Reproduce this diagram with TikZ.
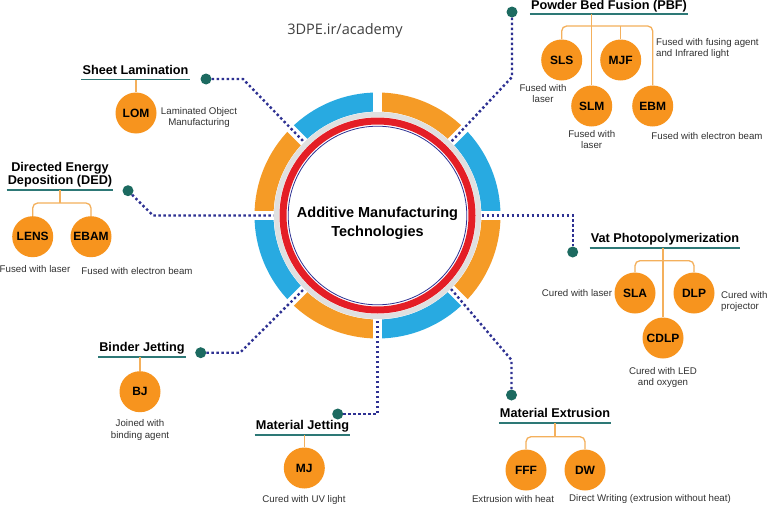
\documentclass[tikz,border=0pt]{standalone}
\usepackage{fontspec}
\setmainfont{Liberation Sans}
\newfontfamily\sitefont{Open Sans}
\usepackage{tikz}
\usetikzlibrary{positioning,calc}
\definecolor{amorange}{RGB}{247,148,30}
\definecolor{ringorange}{RGB}{245,155,38}
\definecolor{ringblue}{RGB}{40,170,225}
\definecolor{ringred}{RGB}{228,30,38}
\definecolor{navydot}{RGB}{46,49,146}
\definecolor{tealdot}{RGB}{28,106,96}
\definecolor{tealline}{RGB}{45,120,118}
\definecolor{branchorange}{RGB}{244,176,92}
\definecolor{txtgray}{RGB}{50,50,50}

\begin{document}
\begin{tikzpicture}[
  x=1pt, y=1pt,
  head/.style={font=\fontsize{12.7}{13.5}\selectfont\bfseries, anchor=south, text depth=2.5pt, inner xsep=1pt, inner ysep=2.5pt, align=center},
  uline/.style={draw=tealline, line width=1.3pt},
  proc/.style={circle, fill=amorange, minimum size=41pt, inner sep=0pt, font=\fontsize{12}{12}\selectfont\bfseries},
  desc/.style={font=\fontsize{9.7}{11.5}\selectfont, text=txtgray, align=center, inner sep=1pt},
  bullet/.style={circle, fill=tealdot, minimum size=11pt, inner sep=0pt},
  dotcon/.style={navydot, line width=2.4pt, dash pattern=on 2.4pt off 2.6pt},
  branch/.style={draw=branchorange, line width=1.3pt, rounded corners=5pt}
]
\fill[white] (0,0) rectangle (768,-506);
\useasboundingbox (0,0) rectangle (768,-506);

\coordinate (ctr) at (377.5,-215.5);
\foreach \a/\col in {0/ringblue,45/ringorange,90/ringblue,135/ringorange,180/ringblue,225/ringorange,270/ringblue,315/ringorange}
  \draw[\col, line width=19pt] ($(ctr)+(\a:113.5)$) arc[start angle=\a, delta angle=45, radius=113.5];
\foreach \a in {0,45,...,315} {
  \draw[white, line width=9pt] ($(ctr)+(\a:103)$) -- ($(ctr)+(\a:126)$);
  \coordinate (g\a) at ($(ctr)+(\a:104)$);
}
\draw[black!12, line width=5pt] (ctr) circle[radius=101];
\draw[ringred, line width=7pt] (ctr) circle[radius=94.5];
\draw[navydot, line width=0.8pt] (ctr) circle[radius=89.3];

\node[font=\fontsize{14.5}{19}\selectfont\bfseries, align=center] (amt) at (377.5,-223.5) {Additive Manufacturing\\Technologies};
\node[font=\sitefont\fontsize{14.5}{16}\selectfont, text=black!75] (site) at (345,-31) {3DPE.ir/academy};

\node[head] (sheet) at (135.5,-79.5) {Sheet Lamination};
\node[head] (ded) at (60,-190) {Directed Energy\\Deposition (DED)};
\node[head, inner ysep=1.5pt] (pbf) at (609,-14) {Powder Bed Fusion (PBF)};
\node[head] (vat) at (665,-248) {Vat Photopolymerization};
\node[head] (binder) at (142,-357) {Binder Jetting};
\node[head] (mjet) at (302.5,-435) {Material Jetting};
\node[head] (mext) at (555,-423) {Material Extrusion};
\foreach \h in {sheet,ded,pbf,vat,binder,mjet,mext}
  \draw[uline] (\h.south west) -- (\h.south east);

\node[bullet] (slb) at (206,-79) {};
\node[bullet] (dedb) at (128,-190.7) {};
\node[bullet] (pbfb) at (512,-12) {};
\node[bullet] (vatb) at (572.7,-252) {};
\node[bullet] (bjb) at (200.7,-352.7) {};
\node[bullet] (mjb) at (337.7,-414) {};
\node[bullet] (mexb) at (511.5,-395) {};

\node[proc] (lom) at (136,-113) {LOM};
\node[proc] (lens) at (32.7,-236.7) {LENS};
\node[proc] (ebam) at (91,-236.7) {EBAM};
\node[proc] (sls) at (561.7,-60) {SLS};
\node[proc] (mjf) at (620.7,-60) {MJF};
\node[proc] (slm) at (591.7,-106) {SLM};
\node[proc] (ebm) at (652.7,-106) {EBM};
\node[proc] (sla) at (635,-293) {SLA};
\node[proc] (dlp) at (694,-293) {DLP};
\node[proc] (cdlp) at (663,-338) {CDLP};
\node[proc] (bj) at (140,-391.7) {BJ};
\node[proc] (mj) at (304.3,-468) {MJ};
\node[proc] (fff) at (526,-470) {FFF};
\node[proc] (dw) at (585,-470) {DW};

\node[desc] (lomd) at (199,-117.5) {Laminated Object\\Manufacturing};
\node[desc] (lensd) at (35,-269) {Fused with laser};
\node[desc] (ebamd) at (137,-271) {Fused with electron beam};
\node[desc] (slsd) at (543,-93.5) {Fused with\\laser};
\node[desc] (slmd) at (591.7,-139.5) {Fused with\\laser};
\node[desc, anchor=west, align=left] (mjfd) at (655,-48.5) {Fused with fusing agent\\and Infrared light};
\node[desc] (ebmd) at (707,-136) {Fused with electron beam};
\node[desc] (slad) at (577,-293) {Cured with laser};
\node[desc, anchor=west, align=left] (dlpd) at (720,-301.5) {Cured with\\projector};
\node[desc] (cdlpd) at (663,-377.5) {Cured with LED\\and oxygen};
\node[desc] (bjd) at (140,-430) {Joined with\\binding agent};
\node[desc] (mjd) at (304,-500) {Cured with UV light};
\node[desc] (fffd) at (513,-499) {Extrusion with heat};
\node[desc] (dwd) at (650,-499) {Direct Writing (extrusion without heat)};

\coordinate (dedbar) at (60,-203);
\coordinate (pbfbar) at (620.7,-26);
\coordinate (vatbar) at (663,-260.7);
\coordinate (mexbar) at (555,-436.7);
\draw[branch] (lom) -- (lom |- sheet.south);
\draw[branch] (ded.south) -- (dedbar);
\draw[branch] (lens) |- (dedbar) -| (ebam);
\draw[branch] (slm |- pbf.south) -- (slm);
\draw[branch] (sls) |- (pbfbar) -| (ebm);
\draw[branch] (mjf) -- (pbfbar);
\draw[branch] (cdlp |- vat.south) -- (cdlp);
\draw[branch] (sla) |- (vatbar) -| (dlp);
\draw[branch] (bj) -- (bj |- binder.south);
\draw[branch] (mj) -- (mj |- mjet.south);
\draw[branch] (mext.south) -- (mexbar);
\draw[branch] (fff) |- (mexbar) -| (dw);

\coordinate (slk) at (243,-79);
\coordinate (dedk) at (153,-215.5);
\coordinate (pbfk) at (512,-77);
\coordinate (bjk) at (240,-352.7);
\coordinate (mexk) at (511.5,-360);
\draw[dotcon] (slb) -- (slk) -- (g135);
\draw[dotcon] (dedb) -- (dedk) -- (g180);
\draw[dotcon] (pbfb) -- (pbfk) -- (g45);
\draw[dotcon] (g0) -| (vatb);
\draw[dotcon] (bjb) -- (bjk) -- (g225);
\draw[dotcon] (mjb) -| (g270);
\draw[dotcon] (g315) -- (mexk) -- (mexb);
\end{tikzpicture}
\end{document}
